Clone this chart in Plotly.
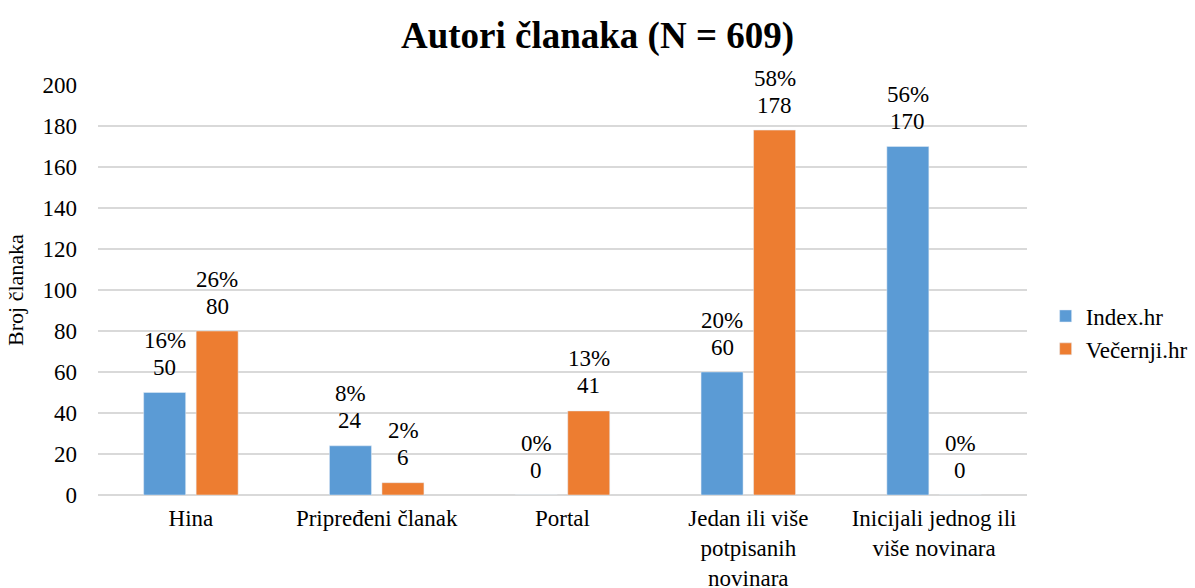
import plotly.graph_objects as go

categories = ["Hina", "Pripređeni članak", "Portal",
              "Jedan ili više<br>potpisanih<br>novinara",
              "Inicijali jednog ili<br>više novinara"]
index_vals = [50, 24, 0, 60, 170]
index_pct = ["16%", "8%", "0%", "20%", "56%"]
vec_vals = [80, 6, 41, 178, 0]
vec_pct = ["26%", "2%", "13%", "58%", "0%"]
y_ticks = [0, 20, 40, 60, 80, 100, 120, 140, 160, 180, 200]

FONT = "Liberation Serif"
LBL = dict(family=FONT, size=23, color="black")

fig = go.Figure()
fig.add_trace(go.Bar(name="Index.hr", x=categories, y=index_vals, marker_color="#5b9bd5"))
fig.add_trace(go.Bar(name="Večernji.hr", x=categories, y=vec_vals, marker_color="#ed7d31"))

# data labels (count just above the bar, percentage above the count)
for vals, pcts, xs in [(index_vals, index_pct, -26.3), (vec_vals, vec_pct, 26.3)]:
    for c, v, p in zip(categories, vals, pcts):
        fig.add_annotation(x=c, y=v, text=str(v), showarrow=False, xshift=xs,
                           yshift=25, yanchor="middle", font=LBL)
        fig.add_annotation(x=c, y=v, text=p, showarrow=False, xshift=xs,
                           yshift=52, yanchor="middle", font=LBL)

fig.update_layout(
    width=1195, height=588,
    barmode="group", bargap=0.435, bargroupgap=0.2,
    plot_bgcolor="white", paper_bgcolor="white",
    font=dict(family=FONT, size=23, color="black"),
    title=dict(text="<b>Autori članaka (N = 609)</b>", x=0.5, xref="container",
               y=0.94, yref="container", xanchor="center", yanchor="middle",
               font=dict(family=FONT, size=37, color="black")),
    margin=dict(l=98, r=168, t=85, b=93),
    legend=dict(x=0.875, y=0.4345, xref="container", yref="container",
                xanchor="left", yanchor="middle",
                font=dict(family=FONT, size=23, color="black"), tracegroupgap=15),
    showlegend=True,
)
fig.update_yaxes(range=[0, 200], tickvals=y_ticks, showgrid=True,
                 gridcolor="#d9d9d9", gridwidth=1.5, zeroline=True,
                 zerolinecolor="#d9d9d9", zerolinewidth=1.5,
                 tickfont=dict(family=FONT, size=23, color="black"),
                 title=dict(text="Broj članaka", font=dict(family=FONT, size=22, color="black"), standoff=12),
                 ticks="", ticklabelstandoff=20, automargin=False)
fig.update_xaxes(showline=False, ticks="", ticklabelstandoff=7, automargin=False,
                 tickfont=dict(family=FONT, size=23, color="black"))

fig.write_html("out.html", config={"displayModeBar": False},
               post_script="document.body.style.margin='0';")
